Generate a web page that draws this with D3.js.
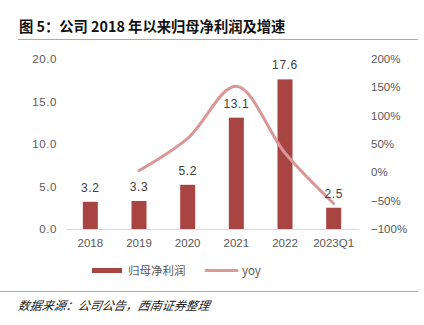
<!DOCTYPE html>
<html>
<head>
<meta charset="utf-8">
<script src="https://cdn.jsdelivr.net/npm/d3@7"></script>
<style>
  body { margin: 0; background: #fff; }
  svg { display: block; font-family: "Liberation Sans", Arial, "Noto Sans CJK SC", sans-serif; }
</style>
</head>
<body>
<div id="vis"></div>
<script>
var years = ['2018', '2019', '2020', '2021', '2022', '2023Q1'];
var profit = [3.2, 3.3, 5.2, 13.1, 17.6, 2.5];
var yoy = [null, 3, 60, 152, 34, -55];
var leftTicks = [0, 5, 10, 15, 20];
var rightTicks = [-100, -50, 0, 50, 100, 150, 200];

var W = 424, H = 325;
var prefs = {
  barColor: '#A84543',
  lineColor: '#D99897',
  axisText: '#595959',
  rule: '#E0A060'
};

var svg = d3.select('#vis').append('svg').attr('width', W).attr('height', H);

// title and rules
svg.append('text')
  .attr('x', 19).attr('y', 32)
  .attr('font-size', 14.3).attr('font-weight', 'bold')
  .attr('font-family', '"Noto Sans CJK SC", sans-serif')
  .attr('fill', '#111')
  .text('图 5：公司 2018 年以来归母净利润及增速');

svg.append('line').attr('x1', 18).attr('x2', 418).attr('y1', 39.5).attr('y2', 39.5)
  .attr('stroke', prefs.rule).attr('stroke-width', 1.2);
svg.append('line').attr('x1', 0).attr('x2', 418).attr('y1', 291.5).attr('y2', 291.5)
  .attr('stroke', prefs.rule).attr('stroke-width', 1.2);

svg.append('text')
  .attr('x', 18).attr('y', 310)
  .attr('font-size', 12).attr('font-style', 'italic')
  .attr('font-family', '"Noto Sans CJK SC", sans-serif')
  .attr('transform', 'skewX(-10) translate(54,0)')
  .attr('fill', '#222')
  .text('数据来源：公司公告，西南证券整理');

var x = d3.scaleBand().domain(years).range([66, 358]);
var yL = d3.scaleLinear().domain([0, 20]).range([229, 59]);
var yR = d3.scaleLinear().domain([-100, 200]).range([229, 59]);

// left axis labels
svg.append('g').selectAll('text').data(leftTicks).enter().append('text')
  .attr('x', 57).attr('y', function(d) { return yL(d) + 4; })
  .attr('text-anchor', 'end').attr('font-size', 11.5).attr('fill', prefs.axisText)
  .attr('letter-spacing', 0.6)
  .text(function(d) { return d.toFixed(1); });

// right axis labels
svg.append('g').selectAll('text').data(rightTicks).enter().append('text')
  .attr('x', 371).attr('y', function(d) { return yR(d) + 4; })
  .attr('font-size', 11.5).attr('fill', prefs.axisText)
  .text(function(d) { return (d < 0 ? '\u2212' + (-d) : d) + '%'; });

// baseline
svg.append('line').attr('x1', 66).attr('x2', 359).attr('y1', 229.5).attr('y2', 229.5)
  .attr('stroke', '#D9D9D9').attr('stroke-width', 1);

// x labels
svg.append('g').selectAll('text').data(years).enter().append('text')
  .attr('x', function(d) { return x(d) + x.bandwidth() / 2; })
  .attr('y', 247)
  .attr('text-anchor', 'middle').attr('font-size', 11.5).attr('fill', prefs.axisText)
  .text(function(d) { return d; });

// bars
var barW = 15;
svg.append('g').selectAll('rect').data(profit).enter().append('rect')
  .attr('x', function(d, i) { return x(years[i]) + x.bandwidth() / 2 - barW / 2; })
  .attr('y', function(d) { return yL(d); })
  .attr('width', barW)
  .attr('height', function(d) { return yL(0) - yL(d); })
  .attr('fill', prefs.barColor);

// yoy line
var pts = yoy.map(function(d, i) { return [x(years[i]) + x.bandwidth() / 2, d]; })
  .filter(function(p) { return p[1] !== null; });
var line = d3.line()
  .x(function(p) { return p[0]; })
  .y(function(p) { return yR(p[1]); })
  .curve(d3.curveCatmullRom.alpha(0.5));
svg.append('path').datum(pts).attr('d', line)
  .attr('fill', 'none').attr('stroke', prefs.lineColor).attr('stroke-width', 3)
  .attr('stroke-linecap', 'round');

// bar value labels
svg.append('g').selectAll('text').data(profit).enter().append('text')
  .attr('x', function(d, i) { return x(years[i]) + x.bandwidth() / 2; })
  .attr('y', function(d) { return yL(d) - 10; })
  .attr('text-anchor', 'middle').attr('font-size', 12).attr('fill', '#404040')
  .attr('letter-spacing', 0.6)
  .text(function(d) { return d.toFixed(1); });

// legend
var lg = svg.append('g').attr('font-family', '"Noto Sans CJK SC", sans-serif');
lg.append('rect').attr('x', 92).attr('y', 268).attr('width', 30).attr('height', 5)
  .attr('fill', prefs.barColor);
lg.append('text').attr('x', 128).attr('y', 275).attr('font-size', 11.5)
  .attr('fill', prefs.axisText).text('归母净利润');
lg.append('line').attr('x1', 206).attr('x2', 237).attr('y1', 270.5).attr('y2', 270.5)
  .attr('stroke', prefs.lineColor).attr('stroke-width', 3).attr('stroke-linecap', 'round');
lg.append('text').attr('x', 242).attr('y', 275).attr('font-size', 11.5)
  .attr('fill', prefs.axisText).text('yoy');
</script>
</body>
</html>
